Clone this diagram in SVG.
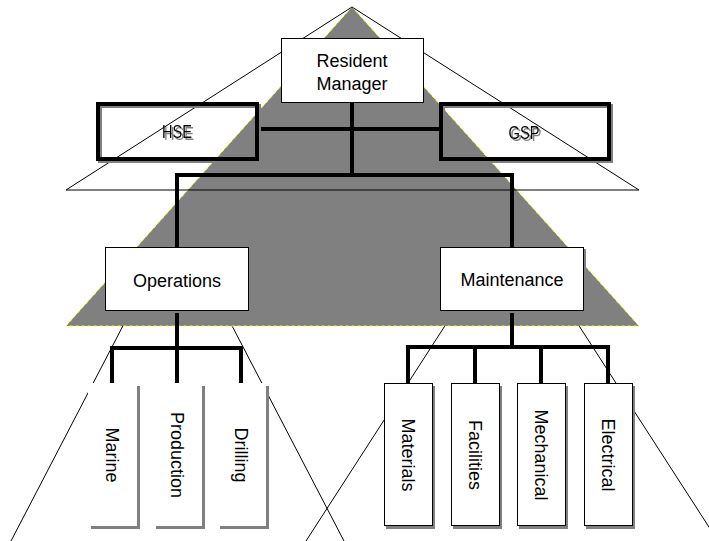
<svg xmlns="http://www.w3.org/2000/svg" width="709" height="541" viewBox="0 0 709 541">
<defs>
<filter id="tshadow" x="-20%" y="-20%" width="140%" height="140%">
<feOffset in="SourceAlpha" dx="2" dy="2" result="off"/>
<feFlood flood-color="#808080"/>
<feComposite operator="in" in2="off" result="sh"/>
<feMerge><feMergeNode in="sh"/><feMergeNode in="SourceGraphic"/></feMerge>
</filter>
</defs>
<style>
.thin{fill:none;stroke:#000;stroke-width:1}
.conn{fill:none;stroke:#000;stroke-width:4;stroke-linejoin:miter;stroke-linecap:butt}
.box{fill:#fff;stroke:#000;stroke-width:1}
.shadow{fill:#808080;stroke:none}
.lbl{font-family:"Liberation Sans",Arial,sans-serif;font-size:18px;fill:#000;text-anchor:middle}
.bold{fill:none;stroke:#000;stroke-width:4}
.bshadow{fill:none;stroke:#808080;stroke-width:4}
</style>
<rect width="709" height="541" fill="#fff"/>
<g id="lower-lines">
<line class="thin" x1="177.5" y1="221" x2="11" y2="541"/>
<line class="thin" x1="177.5" y1="221" x2="344" y2="541"/>
<line class="thin" x1="512" y1="222" x2="306" y2="541"/>
<line class="thin" x1="512" y1="222" x2="718" y2="541"/>
</g>
<g id="pyramid">
<polygon points="352,7 66,326 639,326" fill="#808080" stroke="#ffff00" stroke-width="1" stroke-dasharray="3 3"/>
<polygon class="thin" points="352,7 66,190 639,190"/>
</g>
<g id="connectors">
<path class="conn" d="M352,103 V175"/>
<path class="conn" d="M259,129 H439"/>
<path class="conn" d="M177,247 V175 H512 V247"/>
<path class="conn" d="M177,311 V383"/>
<path class="conn" d="M112,383 V348 H241 V383"/>
<path class="conn" d="M512,311 V347"/>
<path class="conn" d="M408,383 V347 H608 V383"/>
<path class="conn" d="M475,347 V383"/>
<path class="conn" d="M541,347 V383"/>
</g>
<g id="resident-manager">
<rect class="box" x="281.5" y="38.5" width="142" height="64"/>
<text class="lbl" x="352" y="67">Resident</text>
<text class="lbl" x="352" y="90">Manager</text>
</g>
<g id="hse">
<rect class="bshadow" x="100" y="106" width="159" height="55"/>
<rect class="bold" x="98" y="104" width="159" height="55"/>
<text class="lbl" x="177" y="138" filter="url(#tshadow)" textLength="30" lengthAdjust="spacingAndGlyphs">HSE</text>
</g>
<g id="gsp">
<rect class="bshadow" x="443" y="106" width="168" height="55"/>
<rect class="bold" x="441" y="104" width="168" height="55"/>
<text class="lbl" x="524" y="139" filter="url(#tshadow)" textLength="31" lengthAdjust="spacingAndGlyphs">GSP</text>
</g>
<g id="operations">
<rect class="shadow" x="107" y="249" width="144" height="64"/>
<rect class="box" x="105.5" y="247.5" width="143" height="63"/>
<text class="lbl" x="177" y="287">Operations</text>
</g>
<g id="maintenance">
<rect class="shadow" x="442" y="249" width="144" height="64"/>
<rect class="box" x="440.5" y="247.5" width="143" height="63"/>
<text class="lbl" x="512" y="286">Maintenance</text>
</g>
<g id="marine">
<rect class="shadow" x="91" y="386" width="49" height="143"/>
<rect x="88" y="383" width="49" height="143" fill="#fff"/>
<text class="lbl" transform="translate(112,455) rotate(90)" dy="6">Marine</text>
</g>
<g id="production">
<rect class="shadow" x="156" y="386" width="49" height="143"/>
<rect x="153" y="383" width="49" height="143" fill="#fff"/>
<text class="lbl" transform="translate(177,455) rotate(90)" dy="6">Production</text>
</g>
<g id="drilling">
<rect class="shadow" x="220" y="386" width="49" height="143"/>
<rect x="217" y="383" width="49" height="143" fill="#fff"/>
<text class="lbl" transform="translate(241,455) rotate(90)" dy="6">Drilling</text>
</g>
<g id="materials">
<rect class="shadow" x="386" y="386" width="49" height="143"/>
<rect class="box" x="384.5" y="383.5" width="48" height="142"/>
<text class="lbl" transform="translate(408,455) rotate(90)" dy="6">Materials</text>
</g>
<g id="facilities">
<rect class="shadow" x="453" y="386" width="49" height="143"/>
<rect class="box" x="451.5" y="383.5" width="48" height="142"/>
<text class="lbl" transform="translate(475,455) rotate(90)" dy="6">Facilities</text>
</g>
<g id="mechanical">
<rect class="shadow" x="519" y="386" width="49" height="143"/>
<rect class="box" x="517.5" y="383.5" width="48" height="142"/>
<text class="lbl" transform="translate(541,455) rotate(90)" dy="6">Mechanical</text>
</g>
<g id="electrical">
<rect class="shadow" x="586" y="386" width="49" height="143"/>
<rect class="box" x="584.5" y="383.5" width="48" height="142"/>
<text class="lbl" transform="translate(608,455) rotate(90)" dy="6">Electrical</text>
</g>
</svg>
